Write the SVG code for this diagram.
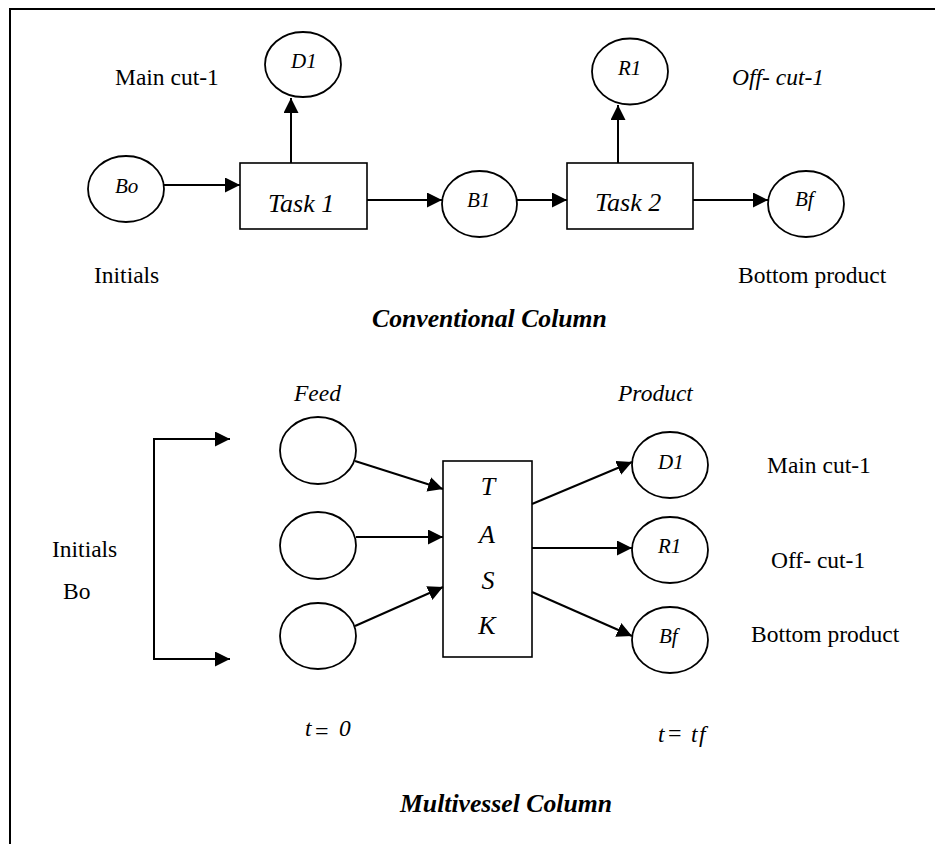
<svg xmlns="http://www.w3.org/2000/svg" width="935" height="844" viewBox="0 0 935 844">
  <defs>
    <marker id="arrow" markerUnits="userSpaceOnUse" markerWidth="15" markerHeight="15" refX="15" refY="7.5" orient="auto-start-reverse" viewBox="0 0 15 15">
      <path d="M0,0 L15,7.5 L0,15 z" fill="#000"/>
    </marker>
    <style>
      .frame { fill: none; stroke: #000; stroke-width: 2; }
      .node { fill: #fff; stroke: #000; stroke-width: 1.8; }
      .box { fill: #fff; stroke: #000; stroke-width: 1.6; }
      .edge { fill: none; stroke: #000; stroke-width: 2; marker-end: url(#arrow); }
      text { font-family: "Liberation Serif", "Times New Roman", serif; fill: #000; }
      .lbl { font-size: 23.5px; }
      .ilbl { font-size: 23.5px; font-style: italic; }
      .nid { font-size: 21px; font-style: italic; }
      .task { font-size: 26px; font-style: italic; }
      .title { font-size: 25.7px; font-style: italic; font-weight: bold; }
      .eq { font-size: 24px; font-style: normal; }
    </style>
  </defs>

  <!-- outer frame (top and left edges) -->
  <path class="frame" d="M10,844 V9 H935"/>

  <!-- ===== Conventional column ===== -->
  <g id="conv-bo"><ellipse class="node" cx="126" cy="189" rx="38" ry="33"/><text class="nid" x="115" y="193">Bo</text></g>
  <g id="conv-task1"><rect class="box" x="240" y="163" width="127" height="66"/><text class="task" x="268" y="212">Task 1</text></g>
  <g id="conv-d1"><ellipse class="node" cx="303" cy="64.5" rx="38" ry="32.5"/><text class="nid" x="291" y="68">D1</text></g>
  <g id="conv-b1"><ellipse class="node" cx="479.5" cy="204" rx="37.5" ry="33"/><text class="nid" x="467" y="207">B1</text></g>
  <g id="conv-task2"><rect class="box" x="567" y="163" width="126" height="66"/><text class="task" x="595" y="211">Task 2</text></g>
  <g id="conv-r1"><ellipse class="node" cx="630" cy="71.5" rx="38" ry="33"/><text class="nid" x="618" y="75">R1</text></g>
  <g id="conv-bf"><ellipse class="node" cx="806" cy="204" rx="38" ry="33"/><text class="nid" x="795" y="206">Bf</text></g>

  <g id="conv-labels">
    <text class="lbl" x="115" y="85">Main cut-1</text>
    <text class="ilbl" x="732" y="85">Off- cut-1</text>
    <text class="lbl" x="94" y="283">Initials</text>
    <text class="lbl" x="738" y="283">Bottom product</text>
    <text class="title" x="372" y="327">Conventional Column</text>
  </g>

  <!-- ===== Multivessel column ===== -->
  <g id="feed-1"><ellipse class="node" cx="318" cy="450.5" rx="38" ry="33.5"/></g>
  <g id="feed-2"><ellipse class="node" cx="318" cy="545.5" rx="38" ry="33.5"/></g>
  <g id="feed-3"><ellipse class="node" cx="318" cy="636" rx="38" ry="33"/></g>
  <g id="mv-task">
    <rect class="box" x="443" y="461" width="89" height="196"/>
    <text class="task" x="488" y="495" text-anchor="middle">T</text>
    <text class="task" x="487" y="543" text-anchor="middle">A</text>
    <text class="task" x="488" y="589" text-anchor="middle">S</text>
    <text class="task" x="487" y="634" text-anchor="middle">K</text>
  </g>
  <g id="mv-d1"><ellipse class="node" cx="670" cy="465" rx="38" ry="33"/><text class="nid" x="658" y="469">D1</text></g>
  <g id="mv-r1"><ellipse class="node" cx="670" cy="550" rx="38" ry="33"/><text class="nid" x="658" y="553">R1</text></g>
  <g id="mv-bf"><ellipse class="node" cx="670" cy="640" rx="38" ry="33"/><text class="nid" x="659" y="643">Bf</text></g>

  <g id="mv-labels">
    <text class="ilbl" x="294" y="401">Feed</text>
    <text class="ilbl" x="618" y="401">Product</text>
    <text class="lbl" x="52" y="557">Initials</text>
    <text class="lbl" x="63" y="599">Bo</text>
    <text class="lbl" x="767" y="473">Main cut-1</text>
    <text class="lbl" x="771" y="568">Off- cut-1</text>
    <text class="lbl" x="751" y="642">Bottom product</text>
    <text class="ilbl" y="736"><tspan x="305">t</tspan><tspan class="eq" x="315" dy="3">=</tspan><tspan x="339" dy="-3">0</tspan></text>
    <text class="ilbl" y="742"><tspan x="658">t</tspan><tspan class="eq" x="668" dy="-1">=</tspan><tspan x="691" dy="1">t</tspan><tspan x="699">f</tspan></text>
    <text class="title" x="400" y="812">Multivessel Column</text>
  </g>

  <!-- connectors -->
  <g id="connectors">
    <path class="edge" d="M164,185 H240"/>
    <path class="edge" d="M291,163 V98"/>
    <path class="edge" d="M367,200 H442"/>
    <path class="edge" d="M517,200 H567"/>
    <path class="edge" d="M618,163 V105"/>
    <path class="edge" d="M693,200 H768"/>

    <path class="edge" d="M230,439 H154 V659 H230" style="marker-start: url(#arrow)"/>
    <path class="edge" d="M355,461 L443,489"/>
    <path class="edge" d="M356,537 H443"/>
    <path class="edge" d="M355,626 L443,587"/>
    <path class="edge" d="M532,504 L632,462"/>
    <path class="edge" d="M532,548 H632"/>
    <path class="edge" d="M532,592 L632,636"/>
  </g>
</svg>
